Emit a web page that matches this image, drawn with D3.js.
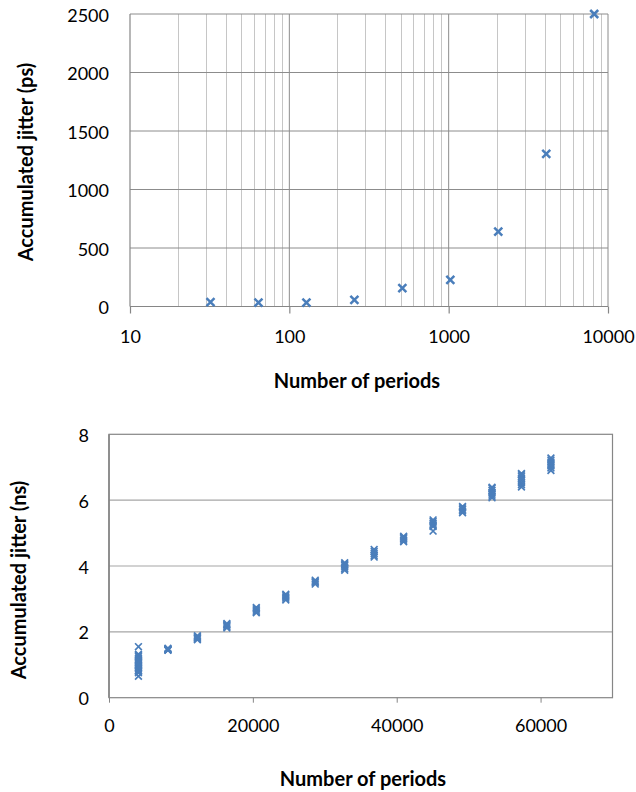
<!DOCTYPE html>
<html>
<head>
<meta charset="utf-8">
<script src="https://cdn.jsdelivr.net/npm/d3@7/dist/d3.min.js"></script>
<style>
  html, body { margin: 0; padding: 0; background: #fff; }
  svg { display: block; }
  text { font-family: Lato, "Open Sans", sans-serif; fill: #000; }
</style>
</head>
<body>
<svg id="chart" width="636" height="792"></svg>
<script>
// ---------- DATA ----------
// Top chart: log x
const topPeriods = [32, 64, 128, 256, 512, 1024, 2048, 4096, 8192];
const topJitterPs = [38, 34, 34, 57, 157, 228, 640, 1304, 2500];
const topXTicks = [10, 100, 1000, 10000];
const topYTicks = [0, 500, 1000, 1500, 2000, 2500];

// Bottom chart: clusters of repeated measurements
const bottomPeriods = [4096, 8192, 12288, 16384, 20480, 24576, 28672, 32768,
                       36864, 40960, 45056, 49152, 53248, 57344, 61440];
const bottomJitterNs = [
  [1.55, 1.32, 1.28, 1.25, 1.2, 1.15, 1.12, 1.08, 1.05, 1.0, 0.97, 0.93, 0.9, 0.87, 0.83, 0.8, 0.76, 0.65],
  [1.44, 1.46, 1.48, 1.5, 1.47, 1.45],
  [1.76, 1.8, 1.82, 1.85, 1.88],
  [2.12, 2.16, 2.2, 2.22, 2.25],
  [2.58, 2.62, 2.66, 2.7, 2.74],
  [2.97, 3.02, 3.06, 3.1, 3.14],
  [3.45, 3.5, 3.53, 3.57],
  [3.87, 3.92, 3.97, 4.02, 4.06, 4.1],
  [4.27, 4.32, 4.38, 4.44, 4.5],
  [4.74, 4.78, 4.83, 4.87, 4.9],
  [5.06, 5.2, 5.25, 5.3, 5.35, 5.4],
  [5.62, 5.67, 5.72, 5.77, 5.81],
  [6.07, 6.12, 6.18, 6.24, 6.3, 6.36, 6.39],
  [6.4, 6.47, 6.53, 6.6, 6.66, 6.72, 6.77, 6.81],
  [6.9, 6.98, 7.04, 7.1, 7.16, 7.22, 7.28]
];
const bottomXTicks = [0, 20000, 40000, 60000];
const bottomYTicks = [0, 2, 4, 6, 8];

const xTitle = "Number of periods";
const yTitleTop = "Accumulated jitter (ps)";
const yTitleBottom = "Accumulated jitter (ns)";

// ---------- STYLE ----------
const markerColor = "#4a7ebb";
const majorGrid = "#8c8c8c";
const minorGrid = "#c6c6c6";
const axisColor = "#868686";

const svg = d3.select("#chart");

function xMarker(g, size, sw) {
  g.append("path")
    .attr("d", `M${-size},${-size}L${size},${size}M${-size},${size}L${size},${-size}`)
    .attr("stroke", markerColor)
    .attr("stroke-width", sw)
    .attr("fill", "none");
}

// ---------- TOP CHART ----------
{
  const L = 130, R = 608, T = 14, B = 306.5;
  const x = d3.scaleLog().domain([10, 10000]).range([L, R]);
  const y = d3.scaleLinear().domain([0, 2500]).range([B, T]);
  const g = svg.append("g");

  // minor vertical gridlines
  const minor = x.ticks().filter(v => !topXTicks.includes(v));
  g.selectAll(".minor").data(minor).enter().append("line")
    .attr("x1", d => Math.round(x(d)) + 0.5).attr("x2", d => Math.round(x(d)) + 0.5)
    .attr("y1", T).attr("y2", B)
    .attr("stroke", minorGrid).attr("stroke-width", 1);

  // major vertical gridlines
  g.selectAll(".majorv").data(topXTicks.slice(1)).enter().append("line")
    .attr("x1", d => x(d)).attr("x2", d => x(d))
    .attr("y1", T).attr("y2", B)
    .attr("stroke", majorGrid).attr("stroke-width", 1);

  // horizontal gridlines
  g.selectAll(".majorh").data(topYTicks.slice(1)).enter().append("line")
    .attr("x1", L).attr("x2", R)
    .attr("y1", d => y(d)).attr("y2", d => y(d))
    .attr("stroke", majorGrid).attr("stroke-width", 1);

  // axes lines
  g.append("line").attr("x1", L).attr("x2", L).attr("y1", T).attr("y2", B)
    .attr("stroke", axisColor).attr("stroke-width", 1.2);
  g.append("line").attr("x1", L).attr("x2", R).attr("y1", B).attr("y2", B)
    .attr("stroke", axisColor).attr("stroke-width", 1.2);

  // x tick marks + labels
  const xAxis = d3.axisBottom(x).tickValues(topXTicks).tickSize(7).tickFormat(d3.format("d"));
  const xa = g.append("g").attr("transform", `translate(0,${B})`).call(xAxis);
  xa.select(".domain").remove();
  xa.selectAll(".tick line").attr("stroke", axisColor).attr("stroke-width", 1.2);
  xa.selectAll(".tick text").attr("font-size", 18).attr("font-family", "Lato")
    .attr("fill", "#000").attr("dy", null).attr("y", 29).attr("dominant-baseline", "central");

  // y labels
  const yAxis = d3.axisLeft(y).tickValues(topYTicks).tickSize(0).tickPadding(21).tickFormat(d3.format("d"));
  const ya = g.append("g").attr("transform", `translate(${L},0)`).call(yAxis);
  ya.select(".domain").remove();
  ya.selectAll(".tick text").attr("font-size", 18).attr("font-family", "Lato")
    .attr("fill", "#000").attr("dy", null).attr("dominant-baseline", "central");

  // points
  g.selectAll(".pt").data(topPeriods.map((p, i) => [p, topJitterPs[i]])).enter()
    .append("g").attr("transform", d => `translate(${x(d[0])},${y(d[1])})`)
    .each(function () { xMarker(d3.select(this), 4, 2.5); });

  // titles
  g.append("text").attr("x", 357).attr("y", 380).attr("text-anchor", "middle")
    .attr("dominant-baseline", "central").attr("font-weight", "bold").attr("font-size", 20)
    .text(xTitle);
  g.append("text").attr("transform", `translate(25,162) rotate(-90)`).attr("text-anchor", "middle")
    .attr("dominant-baseline", "central").attr("font-weight", "bold").attr("font-size", 20)
    .text(yTitleTop);
}

// ---------- BOTTOM CHART ----------
{
  const L = 109, R = 612.5, T = 434.3, B = 697.7;
  const x = d3.scaleLinear().domain([0, 70000]).range([L, R]);
  const y = d3.scaleLinear().domain([0, 8]).range([B, T]);
  const g = svg.append("g");

  // horizontal gridlines
  g.selectAll(".h").data(bottomYTicks.slice(1, -1)).enter().append("line")
    .attr("x1", L).attr("x2", R)
    .attr("y1", d => y(d)).attr("y2", d => y(d))
    .attr("stroke", "#a6a6a6").attr("stroke-width", 1.2);

  // border
  g.append("rect").attr("x", L).attr("y", T).attr("width", R - L).attr("height", B - T)
    .attr("fill", "none").attr("stroke", axisColor).attr("stroke-width", 1.2);
  g.append("line").attr("x1", L).attr("x2", L).attr("y1", T).attr("y2", B)
    .attr("stroke", axisColor).attr("stroke-width", 1.6);

  const xAxis = d3.axisBottom(x).tickValues(bottomXTicks).tickSize(5).tickFormat(d3.format("d"));
  const xa = g.append("g").attr("transform", `translate(0,${B})`).call(xAxis);
  xa.select(".domain").remove();
  xa.selectAll(".tick line").attr("stroke", axisColor).attr("stroke-width", 1);
  xa.selectAll(".tick text").attr("font-size", 18).attr("font-family", "Lato")
    .attr("fill", "#000").attr("dy", null).attr("y", 27).attr("dominant-baseline", "central");

  const yAxis = d3.axisLeft(y).tickValues(bottomYTicks).tickSize(0).tickPadding(20).tickFormat(d3.format("d"));
  const ya = g.append("g").attr("transform", `translate(${L},0)`).call(yAxis);
  ya.select(".domain").remove();
  ya.selectAll(".tick text").attr("font-size", 18).attr("font-family", "Lato")
    .attr("fill", "#000").attr("dy", null).attr("dominant-baseline", "central");

  const pts = [];
  bottomPeriods.forEach((p, i) => bottomJitterNs[i].forEach(v => pts.push([p, v])));
  g.selectAll(".pt").data(pts).enter()
    .append("g").attr("transform", d => `translate(${x(d[0])},${y(d[1])})`)
    .each(function () { xMarker(d3.select(this), 3.4, 1.7); });

  g.append("text").attr("x", 363).attr("y", 778).attr("text-anchor", "middle")
    .attr("dominant-baseline", "central").attr("font-weight", "bold").attr("font-size", 20)
    .text(xTitle);
  g.append("text").attr("transform", `translate(18,580) rotate(-90)`).attr("text-anchor", "middle")
    .attr("dominant-baseline", "central").attr("font-weight", "bold").attr("font-size", 20)
    .text(yTitleBottom);
}
</script>
</body>
</html>
